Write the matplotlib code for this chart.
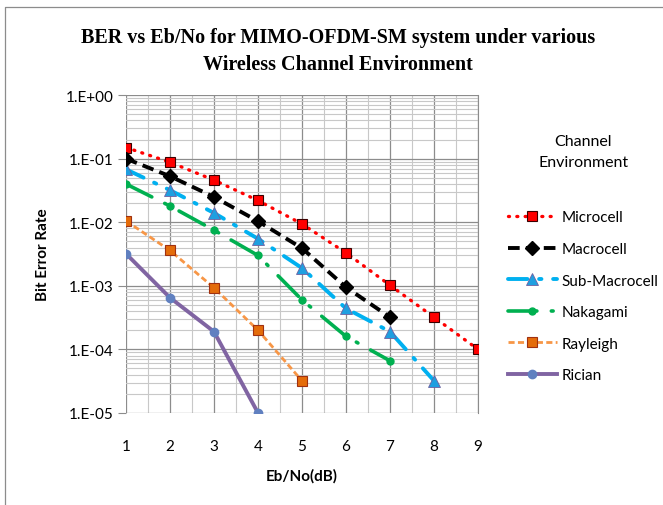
import matplotlib
matplotlib.use('Agg')
import matplotlib.pyplot as plt
from matplotlib.lines import Line2D
from matplotlib.ticker import LogLocator, NullFormatter, FixedLocator

# Eb/No (dB)
snr = [1, 2, 3, 4, 5, 6, 7, 8, 9]

# bit error rate per channel environment
microcell = [0.15, 0.088, 0.046, 0.022, 0.0094, 0.0033, 0.00102, 0.00032, 0.0001]
macrocell = [0.1, 0.053, 0.025, 0.0104, 0.0039, 0.00095, 0.00032]
sub_macrocell = [0.068, 0.032, 0.014, 0.0055, 0.0019, 0.00044, 0.00019, 0.000032]
nakagami = [0.04, 0.018, 0.0075, 0.003, 0.0006, 0.00016, 0.000066]
rayleigh = [0.0105, 0.0036, 0.00093, 0.0002, 0.000032]
rician = [0.0032, 0.00065, 0.00019, 0.00001]

ytick_labels = ['1.E+00', '1.E-01', '1.E-02', '1.E-03', '1.E-04', '1.E-05']

plt.rcParams['font.family'] = ['Lato', 'DejaVu Sans']

fig = plt.figure(figsize=(6.63, 5.06), dpi=100)
ax = fig.add_axes([0.190, 0.182, 0.531, 0.628])

lw = 2.4
ax.plot(snr[:len(microcell)], microcell, color='#ff0000', lw=lw, linestyle=(0, (0.3, 2.2)),
        dash_capstyle='round', marker='s', ms=7, mfc='#ff0000', mec='#3a0000', mew=0.8,
        label='Microcell', zorder=5)
ax.plot(snr[:len(macrocell)], macrocell, color='black', lw=lw + 0.4, linestyle=(0, (3, 1.6)),
        marker='D', ms=7, mfc='black', mec='black', label='Macrocell', zorder=5)
ax.plot(snr[:len(sub_macrocell)], sub_macrocell, color='#00b0f0', lw=lw + 0.4,
        linestyle=(0, (5, 3, 0.6, 3)), dash_capstyle='round',
        marker='^', ms=8, mfc='#1f9fe0', mec='#7060a0', mew=0.6, label='Sub-Macrocell', zorder=4)
ax.plot(snr[:len(nakagami)], nakagami, color='#00b050', lw=lw + 0.2,
        linestyle=(0, (8, 4, 0.5, 4)), dash_capstyle='round',
        marker='o', ms=5, mfc='#00b050', mec='#00b050', label='Nakagami', zorder=4)
ax.plot(snr[:len(rayleigh)], rayleigh, color='#f79646', lw=2.0, linestyle=(0, (2.2, 1.2)),
        marker='s', ms=7, mfc='#e46c0a', mec='#a03010', mew=0.8, label='Rayleigh', zorder=4)
ax.plot(snr[:len(rician)], rician, color='#8064a2', lw=lw + 0.4, linestyle='-',
        marker='o', ms=6, mfc='#6080c0', mec='#6080c0', label='Rician', zorder=4)

ax.set_yscale('log')
ax.set_ylim(1e-5, 1)
ax.set_xlim(1, 9)

ax.yaxis.set_major_locator(FixedLocator([1, 1e-1, 1e-2, 1e-3, 1e-4, 1e-5]))
ax.set_yticklabels(ytick_labels)
ax.yaxis.set_minor_locator(LogLocator(base=10, subs=range(2, 10)))
ax.yaxis.set_minor_formatter(NullFormatter())
ax.set_xticks(snr)
ax.set_xticks([i + 0.5 for i in snr[:-1]], minor=True)

ax.grid(which='major', color='#8c8c8c', lw=0.9)
ax.grid(which='minor', color='#c8c8c8', lw=0.8)
ax.set_axisbelow(True)

for s in ['top', 'bottom', 'left']:
    ax.spines[s].set_visible(False)
ax.spines['right'].set_color('#8c8c8c')
ax.tick_params(axis='y', which='major', length=6, color='#8c8c8c', labelsize=11, pad=3)
ax.tick_params(axis='y', which='minor', length=0)
ax.tick_params(axis='x', which='both', length=0, labelsize=11, pad=19)

ax.set_xlabel('Eb/No(dB)', fontsize=11, fontweight='bold', labelpad=11)
ax.set_ylabel('Bit Error Rate', fontsize=11, fontweight='bold', labelpad=11)

fig.text(0.51, 0.898, 'BER vs Eb/No for MIMO-OFDM-SM system under various\nWireless Channel Environment',
         ha='center', va='center', fontsize=14.5, fontweight='bold',
         family='Liberation Serif', linespacing=1.45)

leg = ax.legend(loc='upper left', bbox_to_anchor=(0.757, 0.745), bbox_transform=fig.transFigure,
                frameon=False, fontsize=11, handlelength=3.2, handletextpad=0.3,
                labelspacing=1.15, title='Channel\nEnvironment', title_fontsize=11.5,
                borderaxespad=0)
leg.get_title().set_multialignment('center')
leg.get_title().set_linespacing(1.6)
leg._legend_box.sep = 30

# outer chart border (left and top only)
fig.add_artist(Line2D([0.008, 0.008, 1.0], [0.0, 0.984, 0.984],
                      transform=fig.transFigure, color='#8c8c8c', lw=0.9))

fig.savefig('out.png', dpi=100)
